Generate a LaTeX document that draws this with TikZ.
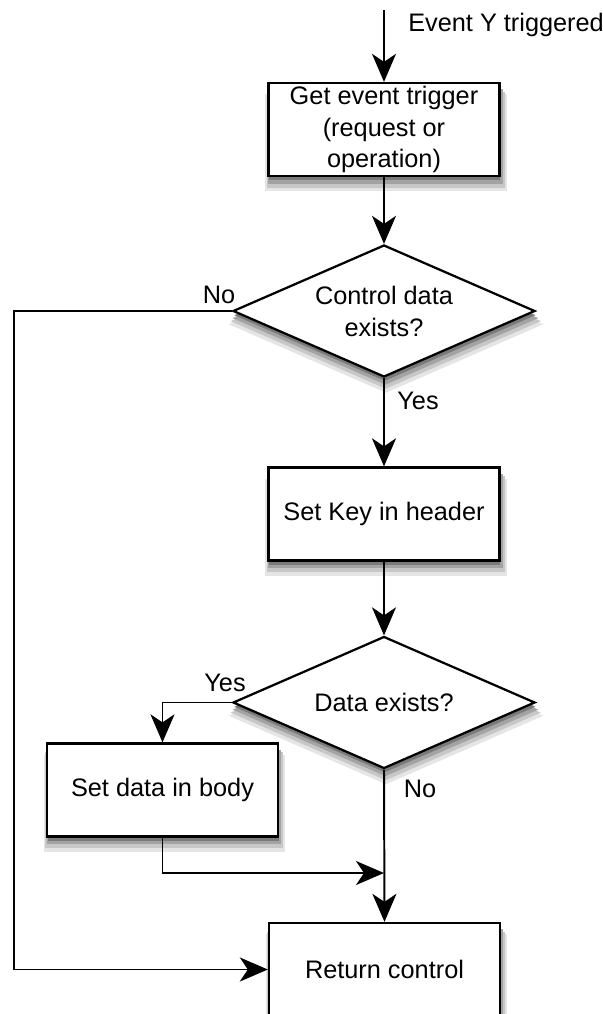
\documentclass[tikz,border=0pt]{standalone}
\usepackage{fontspec}
\setmainfont{Liberation Sans}
\usetikzlibrary{arrows.meta,shapes.geometric,shadows}
\tikzset{
    softshadow/.style={
        general shadow={fill=black!10, shadow xshift=1.4pt, shadow yshift=-9pt, shadow scale=1.045},
        general shadow={fill=black!22, shadow xshift=1.2pt, shadow yshift=-7pt, shadow scale=1.03},
        general shadow={fill=black!36, shadow xshift=1pt, shadow yshift=-5pt, shadow scale=1.015},
        general shadow={fill=black!52, shadow xshift=0.6pt, shadow yshift=-3pt}},
    stepbox/.style={draw, line width=1.6pt, fill=white, minimum width=5.775cm, minimum height=2.325cm, inner sep=1pt, align=center, softshadow},
    testbox/.style={diamond, draw, line width=1.6pt, fill=white, aspect=2.3, minimum width=7.55cm, minimum height=3.3cm, inner sep=0pt, align=center, softshadow},
    flow/.style={line width=1.4pt, -{Stealth[length=0.7cm, width=0.6cm, inset=0.2cm]}},
    tag/.style={inner sep=0pt}
}

\begin{document}
\begin{tikzpicture}[x=0.025cm, y=-0.025cm, font=\fontsize{18}{22.7}\selectfont]
                        \useasboundingbox (0,0) rectangle (603,1014);
                        \coordinate (start) at (384,10);
                        \coordinate (rail) at (14,311);
                        \coordinate (join) at (384,873);
                        \node [stepbox] (trigger) at (384,129.5) {Get event trigger\\(request or\\operation)};
                        \node [testbox] (ctrl) at (384,311) {Control data\\exists?};
                        \node [stepbox] (setkey) at (384,514) {Set Key in header};
                        \node [testbox] (data) at (384,702.5) {Data exists?};
                        \node [stepbox] (setbody) at (162.5,790) {Set data in body};
                        \node [stepbox] (ret) at (384.5,969.5) {Return control};
                        \draw [flow] (start) -- (trigger.north);
                        \foreach \a/\b in {trigger/ctrl, ctrl/setkey, setkey/data, data/ret}
                        {
                            \draw [flow] (\a.south) -- (\b.north);
                        }
                        \draw [flow] (data.west) -| (setbody.north);
                        \draw [flow] (setbody.south) |- (join);
                        \draw [flow] (ctrl.west) -- (rail) |- (ret.west);
                        \node [tag, anchor=west] (evt) at (408,25) {Event Y triggered};
                        \node [tag] (ctrlno) at (219,295) {No};
                        \node [tag] (ctrlyes) at (418,401) {Yes};
                        \node [tag] (datayes) at (225,683) {Yes};
                        \node [tag] (datano) at (420,789) {No};
                    \end{tikzpicture}
\end{document}
